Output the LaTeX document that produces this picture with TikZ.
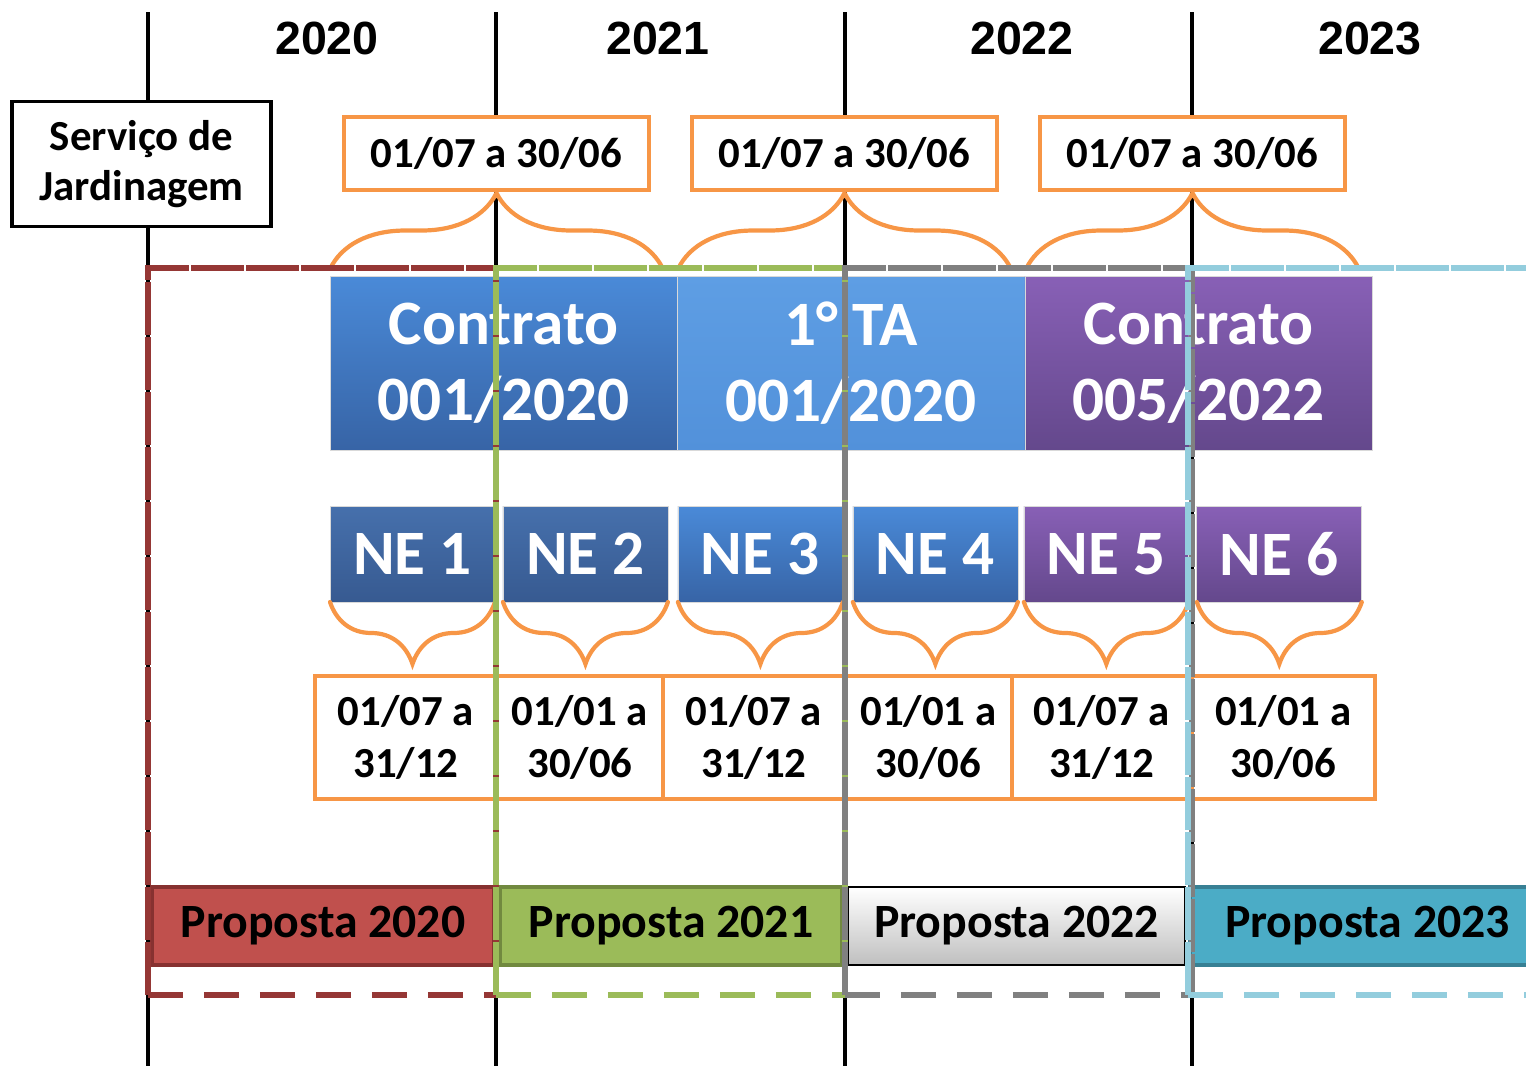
\documentclass[tikz,border=0pt]{standalone}
\usepackage{fontspec}
\setmainfont{Carlito}
\newfontfamily\yearfont{Liberation Sans}
\usetikzlibrary{positioning,calc,decorations.pathreplacing}

\definecolor{laranja}{HTML}{F79646}
\definecolor{vermelho}{HTML}{953735}
\definecolor{verde}{HTML}{9BBB59}
\definecolor{cinza}{HTML}{808080}
\definecolor{azulclaro}{HTML}{93CDDD}
\definecolor{azulA}{RGB}{74,138,216}
\definecolor{azulB}{RGB}{55,100,166}
\definecolor{azulC}{RGB}{94,158,228}
\definecolor{azulD}{RGB}{82,145,218}
\definecolor{azulE}{RGB}{70,112,172}
\definecolor{azulF}{RGB}{55,90,145}
\definecolor{roxoA}{RGB}{136,96,182}
\definecolor{roxoB}{RGB}{100,72,140}

\tikzset{
  eixo/.style={line width=2.2pt, black},
  ano/.style={font=\yearfont\fontsize{26.5pt}{30pt}\selectfont\bfseries},
  caixa/.style={draw=black, line width=2.2pt, fill=white, align=center,
    inner sep=0pt, outer sep=0pt, minimum width=5.18cm, minimum height=2.5cm,
    font=\fontsize{24.4pt}{28.3pt}\selectfont\bfseries},
  periodo/.style={draw=laranja, line width=2.2pt, fill=white, align=center,
    inner sep=0pt, outer sep=0pt,
    font=\fontsize{24.4pt}{29.5pt}\selectfont\bfseries},
  contrato/.style={draw=white!85!black, line width=0.4pt, align=center,
    inner sep=0pt, outer sep=0pt, minimum width=6.95cm, minimum height=3.48cm,
    text=white, font=\fontsize{36pt}{43pt}\selectfont\bfseries},
  ne/.style={draw=white!85!black, line width=0.4pt, inner sep=0pt, outer sep=0pt,
    minimum width=3.3cm, minimum height=1.92cm, text=white,
    font=\fontsize{36pt}{43pt}\selectfont\bfseries},
  proposta/.style={line width=2.2pt, inner sep=0pt, outer sep=0pt,
    minimum height=1.56cm, font=\fontsize{27.2pt}{32pt}\selectfont\bfseries},
  chave/.style={draw=laranja, line width=2.4pt, line cap=round,
    decorate, decoration={brace, amplitude=#1}},
  quadro/.style={line width=3.4pt, draw=#1, dash pattern=on 1.07cm off 0.03cm},
  quadrobase/.style={line width=3.4pt, draw=#1, dash pattern=on 0.7cm off 0.42cm}
}

\begin{document}
\begin{tikzpicture}[x=0.02cm, y=-0.02cm]
  \clip (0,0) rectangle (1526,1066);

  % linhas dos anos
  \foreach \x in {148,496,845,1192}
    \draw[eixo] (\x,12) -- (\x,1066);
  \node[ano] (a2020) at (327,38) {2020};
  \node[ano] (a2021) at (658,38) {2021};
  \node[ano] (a2022) at (1022,38) {2022};
  \node[ano] (a2023) at (1370,38) {2023};

  \node[caixa] (servico) at (141.5,164) {Serviço de\\Jardinagem};

  % vigencias anuais
  \node[periodo, minimum width=6.1cm, minimum height=1.46cm] (per1) at (496.5,153.5) {01/07 a 30/06};
  \node[periodo, minimum width=6.1cm, minimum height=1.46cm] (per2) at (844.5,153.5) {01/07 a 30/06};
  \node[periodo, minimum width=6.1cm, minimum height=1.46cm] (per3) at (1192.5,153.5) {01/07 a 30/06};
  \foreach \p in {per1,per2,per3}
    \draw[chave=1.5cm] ($(\p.south)+(-166,78)$) -- ($(\p.south)+(166,78)$);

  % propostas
  \node[proposta, draw=vermelho!90!black, fill={rgb,255:red,192;green,80;blue,77},
    minimum width=6.84cm] (pr20) at (323,926) {Proposta 2020};
  \node[proposta, draw={rgb,255:red,113;green,137;blue,63}, fill=verde,
    minimum width=6.84cm] (pr21) at (671,926) {Proposta 2021};
  \node[proposta, draw=black, line width=0.8pt, top color=white, bottom color=black!25,
    minimum width=6.74cm] (pr22) at (1016.5,926) {Proposta 2022};
  \node[proposta, draw={rgb,255:red,56;green,128;blue,148}, fill={rgb,255:red,75;green,172;blue,198},
    minimum width=7.1cm] (pr23) at (1367.5,926) {Proposta 2023};

  % contratos
  \node[contrato, top color=azulA, bottom color=azulB, anchor=west] (ct1) at (330,363) {Contrato\\001/2020};
  \node[contrato, top color=azulC, bottom color=azulD, right=0pt of ct1] (ct2) {1° TA\\001/2020};
  \node[contrato, top color=roxoA, bottom color=roxoB, right=0pt of ct2] (ct3) {Contrato\\005/2022};

  % notas de empenho
  \node[ne, top color=azulE, bottom color=azulF, anchor=west] (ne1) at (330,554) {NE 1};
  \node[ne, top color=azulE, bottom color=azulF, right=0.16cm of ne1] (ne2) {NE 2};
  \node[ne, top color=azulA, bottom color=azulB, right=0.2cm of ne2] (ne3) {NE 3};
  \node[ne, top color=azulA, bottom color=azulB, right=0.2cm of ne3] (ne4) {NE 4};
  \node[ne, top color=roxoA, bottom color=roxoB, right=0.12cm of ne4] (ne5) {NE 5};
  \node[ne, top color=roxoA, bottom color=roxoB, right=0.16cm of ne5] (ne6) {NE 6};

  % periodos das notas
  \node[periodo, minimum width=3.64cm, minimum height=2.46cm] (dt1) at (406,737.5) {01/07 a\\31/12};
  \node[periodo, minimum width=3.32cm, minimum height=2.46cm, right=0pt of dt1] (dt2) {01/01 a\\30/06};
  \node[periodo, minimum width=3.64cm, minimum height=2.46cm, right=0pt of dt2] (dt3) {01/07 a\\31/12};
  \node[periodo, minimum width=3.34cm, minimum height=2.46cm, right=0pt of dt3] (dt4) {01/01 a\\30/06};
  \node[periodo, minimum width=3.6cm, minimum height=2.46cm, right=0pt of dt4] (dt5) {01/07 a\\31/12};
  \node[periodo, minimum width=3.66cm, minimum height=2.46cm, right=0pt of dt5] (dt6) {01/01 a\\30/06};
  \foreach \n in {ne1,ne2,ne3,ne4,ne5,ne6}
    \draw[chave=1.24cm] (\n.south east) -- (\n.south west);

  % quadros tracejados
  \foreach \xa/\xb/\cor in {148/496/vermelho, 496/845/verde, 845/1192/cinza, 1188/1560/azulclaro} {
    \draw[quadro=\cor] (\xa,995) -- (\xa,268) -- (\xb,268) -- (\xb,995);
    \draw[quadrobase=\cor] (\xa,995) -- (\xb,995);
  }
\end{tikzpicture}
\end{document}
